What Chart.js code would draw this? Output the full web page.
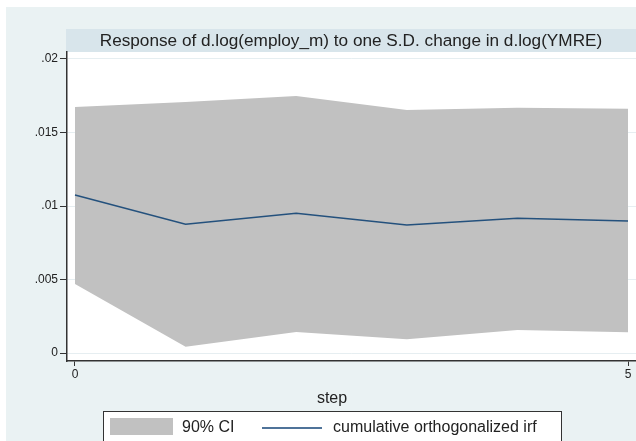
<!DOCTYPE html>
<html>
<head>
<meta charset="utf-8">
<script src="https://cdn.jsdelivr.net/npm/chart.js"></script>
<style>
  html, body { margin: 0; padding: 0; background: #fff; }
  body { width: 636px; height: 441px; overflow: hidden; position: relative;
         font-family: "Liberation Sans", Arial, Helvetica, sans-serif; color: #222; }
  #irfChart { position: absolute; left: 0; top: 0; }
  .title { position: absolute; left: 66px; top: 29px; width: 570px; height: 23px;
           line-height: 23px; text-align: center; font-size: 17.2px; color: #222; }
  .xtitle { position: absolute; left: 282px; top: 388px; width: 100px; text-align: center;
            font-size: 16px; line-height: 20px; color: #222; }
  .legend { position: absolute; left: 103px; top: 411px; width: 457px; height: 40px;
            border: 1px solid #333; background: #fff; }
  .legend .swatch { position: absolute; left: 6px; top: 6px; width: 63px; height: 17px; background: #c1c1c1; }
  .legend .lbl { position: absolute; top: 5px; font-size: 16px; line-height: 20px; color: #222; white-space: nowrap; }
  .legend .ln { position: absolute; left: 158px; top: 15px; width: 60px; height: 1.5px; background: #4f7399; }
</style>
</head>
<body>
<canvas id="irfChart" width="636" height="441"></canvas>
<div class="title">Response of d.log(employ_m) to one S.D. change in d.log(YMRE)</div>
<div class="xtitle">step</div>
<div class="legend">
  <div class="swatch"></div>
  <div class="lbl" style="left:78px">90% CI</div>
  <div class="ln"></div>
  <div class="lbl" style="left:229px">cumulative orthogonalized irf</div>
</div>
<script>
const steps = [0, 1, 2, 3, 4, 5];
const irf = [0.01075, 0.00876, 0.00950, 0.00871, 0.00916, 0.00898];
const ciUpper = [0.01673, 0.01707, 0.01748, 0.01653, 0.01669, 0.01662];
const ciLower = [0.00469, 0.00043, 0.00143, 0.00093, 0.00156, 0.00141];
const yTicks = [0, 0.005, 0.01, 0.015, 0.02];
const xTicks = [0, 5];

const toPoints = vals => steps.map((s, i) => ({ x: s, y: vals[i] }));

// stata-like backdrop: white frame, bluish graph region, title band, white plot region
const backdrop = {
    id: 'backdrop',
    beforeDraw(chart) {
        const ctx = chart.ctx;
        const a = chart.chartArea;
        ctx.save();
        ctx.fillStyle = '#ffffff';
        ctx.fillRect(0, 0, chart.width, chart.height);
        ctx.fillStyle = '#eaf2f3';
        ctx.fillRect(6, 7, chart.width - 6, chart.height - 7);
        ctx.fillStyle = '#d8e5eb';
        ctx.fillRect(66, 29, chart.width - 66, 23);
        ctx.fillStyle = '#ffffff';
        ctx.fillRect(a.left, a.top, a.right - a.left, a.bottom - a.top);
        ctx.restore();
    }
};

const fmtTick = v => v === 0 ? '0' : String(+v.toFixed(3)).replace(/^0/, '');

new Chart(document.getElementById('irfChart'), {
    type: 'line',
    data: {
        datasets: [
            {
                label: 'cumulative orthogonalized irf',
                data: toPoints(irf),
                borderColor: '#24517d',
                borderWidth: 1.5,
                pointRadius: 0,
                fill: false,
                tension: 0
            },
            {
                label: '90% CI',
                data: toPoints(ciUpper),
                borderWidth: 0,
                borderColor: 'rgba(0,0,0,0)',
                backgroundColor: '#c1c1c1',
                pointRadius: 0,
                fill: 2,
                tension: 0
            },
            {
                label: 'lower',
                data: toPoints(ciLower),
                borderWidth: 0,
                borderColor: 'rgba(0,0,0,0)',
                pointRadius: 0,
                fill: false,
                tension: 0
            }
        ]
    },
    options: {
        responsive: false,
        animation: false,
        devicePixelRatio: 1,
        layout: { padding: { top: 52, bottom: 60, left: 0, right: 0 } },
        plugins: {
            legend: { display: false },
            title: { display: false },
            tooltip: { enabled: false }
        },
        scales: {
            x: {
                type: 'linear',
                min: -0.0723,
                max: 5.0723,
                afterBuildTicks: scale => { scale.ticks = xTicks.map(v => ({ value: v })); },
                afterFit: scale => { scale.height = 20; },
                grid: { drawOnChartArea: false, drawTicks: true, tickLength: 5, tickColor: '#333' },
                border: { color: '#333', width: 1.5 },
                ticks: {
                    color: '#222',
                    padding: 1,
                    maxRotation: 0,
                    font: { family: '"Liberation Sans", Arial, sans-serif', size: 12 },
                    callback: v => String(v)
                }
            },
            y: {
                min: -0.000544,
                max: 0.020476,
                afterBuildTicks: scale => { scale.ticks = yTicks.map(v => ({ value: v })); },
                afterFit: scale => { scale.width = 67; },
                grid: { color: '#e6eef1', lineWidth: 1, drawTicks: true, tickLength: 7, tickColor: '#333' },
                border: { color: '#333', width: 1.5 },
                ticks: {
                    color: '#222',
                    padding: 2,
                    font: { family: '"Liberation Sans", Arial, sans-serif', size: 12 },
                    callback: v => fmtTick(v)
                }
            }
        }
    },
    plugins: [backdrop]
});
</script>
</body>
</html>
